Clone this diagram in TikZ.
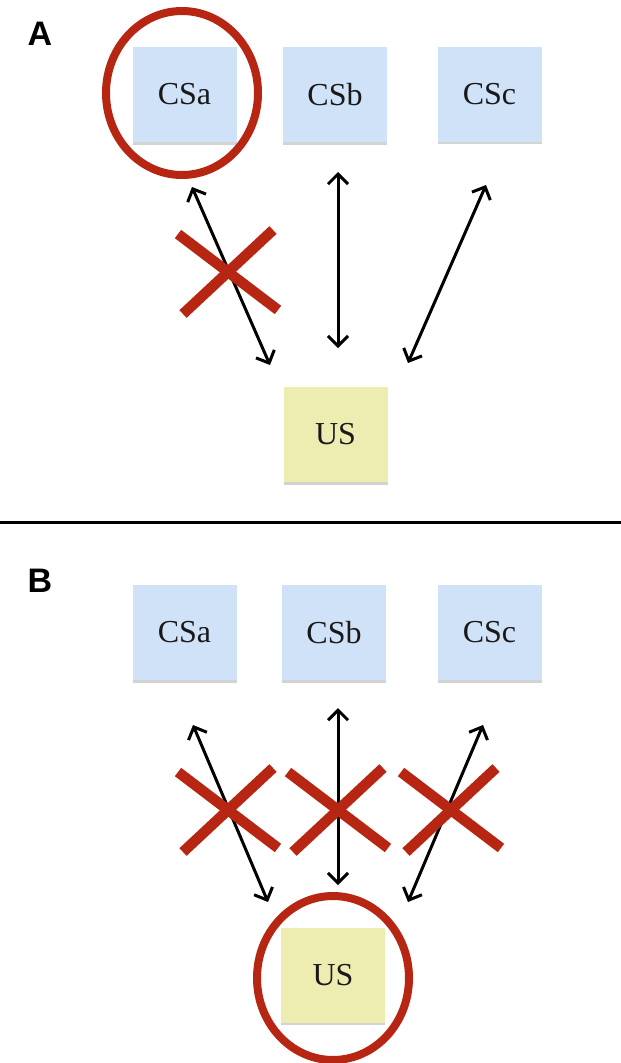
\documentclass[tikz,border=0pt]{standalone}
\usepackage{fontspec}
\setmainfont{Liberation Serif}
\newfontfamily\labelfont{Liberation Sans}
\usetikzlibrary{arrows.meta,shadows}
\definecolor{csblue}{RGB}{208,226,248}
\definecolor{usyellow}{RGB}{237,237,178}
\definecolor{xred}{RGB}{182,38,18}
\definecolor{txt}{RGB}{25,25,25}
\tikzset{
  csbox/.style={fill=csblue, minimum width=104pt, minimum height=95pt, inner sep=0pt,
    text=txt, font=\fontsize{32}{38}\selectfont,
    drop shadow={shadow xshift=0pt, shadow yshift=-2.5pt, opacity=0.35, fill=gray}},
  usbox/.style={csbox, fill=usyellow},
  link/.style={line width=3pt, {Straight Barb[length=10pt,width=20pt]}-{Straight Barb[length=10pt,width=20pt]}},
  cross/.style={xred, line width=10.5pt},
  ring/.style={xred, line width=8pt},
  panel/.style={font=\labelfont\bfseries\fontsize{34}{40}\selectfont, inner sep=0pt}
}
\begin{document}
\begin{tikzpicture}[x=1pt,y=-1pt]
\useasboundingbox (0,0) rectangle (621,1063);
% ---------- Panel A ----------
\node[panel] (la) at (40,34) {A};
\node[csbox] (a1) at (184.5,94.5) {CSa};
\node[csbox] (a2) at (335,94.5) {CSb};
\node[csbox] (a3) at (489.5,94) {CSc};
\node[usbox] (au) at (335.5,434.5) {US};
\draw[ring] (182,93) ellipse [x radius=76pt, y radius=82pt];
\coordinate (a1t) at (192,187); \coordinate (a1b) at (270,365);
\coordinate (a2t) at (338,172); \coordinate (a2b) at (338,348);
\coordinate (a3t) at (486,185); \coordinate (a3b) at (408,363);
\draw[link] (a1t) -- (a1b);
\draw[link] (a2t) -- (a2b);
\draw[link] (a3t) -- (a3b);
\coordinate (xa) at (228,272);
\draw[cross] ([shift={(-50,-38)}]xa) -- ([shift={(50,38)}]xa);
\draw[cross] ([shift={(45,-42)}]xa) -- ([shift={(-45,42)}]xa);
% ---------- divider ----------
\coordinate (dl) at (0,522); \coordinate (dr) at (621,522);
\draw[line width=3pt, black] (dl) -- (dr);
% ---------- Panel B ----------
\node[panel] (lb) at (40,581) {B};
\node[csbox] (b1) at (184.5,632.5) {CSa};
\node[csbox] (b2) at (334,632.5) {CSb};
\node[csbox] (b3) at (489.5,632.5) {CSc};
\node[usbox] (bu) at (333,975) {US};
\draw[ring] (333,978) ellipse [x radius=76pt, y radius=82pt];
\coordinate (b1t) at (193,725); \coordinate (b1b) at (268,902);
\coordinate (b2t) at (338,708); \coordinate (b2b) at (338,885);
\coordinate (b3t) at (483,725); \coordinate (b3b) at (408,902);
\draw[link] (b1t) -- (b1b);
\draw[link] (b2t) -- (b2b);
\draw[link] (b3t) -- (b3b);
\foreach \cx/\nm in {228/xb1, 338/xb2, 451/xb3}{
  \coordinate (\nm) at (\cx,810);
  \draw[cross] ([shift={(-50,-38)}]\nm) -- ([shift={(50,38)}]\nm);
  \draw[cross] ([shift={(45,-42)}]\nm) -- ([shift={(-45,42)}]\nm);
}
\end{tikzpicture}
\end{document}
